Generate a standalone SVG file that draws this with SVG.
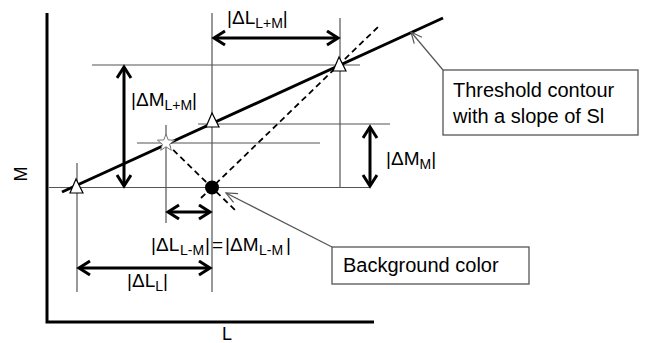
<svg xmlns="http://www.w3.org/2000/svg" width="649" height="343" viewBox="0 0 649 343">
  <style>
    .axis { stroke: #000; stroke-width: 3; fill: none; }
    .guide { stroke: #555; stroke-width: 1.2; fill: none; }
    .contour { stroke: #000; stroke-width: 3; fill: none; }
    .dash { stroke: #000; stroke-width: 1.8; stroke-dasharray: 6 4; fill: none; }
    .dim { stroke: #000; stroke-width: 3; fill: none; marker-start: url(#chev); marker-end: url(#chev); }
    .leader { stroke: #555; stroke-width: 1.2; fill: none; marker-end: url(#thin); }
    .box { fill: #fff; stroke: #555; stroke-width: 1.3; }
    .lbl { font-family: "Liberation Sans", Arial, sans-serif; font-size: 19px; fill: #000; }
    .sub { font-size: 14px; }
    .note { font-family: "Liberation Sans", Arial, sans-serif; font-size: 20px; fill: #000; }
    .ax { font-family: "Liberation Sans", Arial, sans-serif; font-size: 18px; fill: #000; }
    .tri { fill: #fff; stroke: #000; stroke-width: 1.2; }
  </style>
  <defs>
    <marker id="chev" markerUnits="userSpaceOnUse" markerWidth="16" markerHeight="18" refX="12" refY="8" orient="auto-start-reverse" viewBox="0 0 16 18">
      <path d="M1,1 L12,8 L1,15" fill="none" stroke="#000" stroke-width="3"/>
    </marker>
    <marker id="thin" markerUnits="userSpaceOnUse" markerWidth="14" markerHeight="14" refX="12" refY="6" orient="auto" viewBox="0 0 14 12">
      <path d="M1,1 L12,6 L1,11" fill="none" stroke="#555" stroke-width="1.2"/>
    </marker>
  </defs>

  <!-- axes -->
  <g id="axes">
    <polyline class="axis" points="47,13 47,322 374,322"/>
    <text class="ax" x="227" y="340" text-anchor="middle">L</text>
    <text class="ax" transform="translate(27,174) rotate(-90)" text-anchor="middle">M</text>
  </g>

  <!-- construction lines -->
  <g id="guides">
    <line class="guide" x1="92" y1="65" x2="360" y2="65"/>
    <line class="guide" x1="198" y1="124" x2="390" y2="124"/>
    <line class="guide" x1="137" y1="143" x2="320" y2="143"/>
    <line class="guide" x1="49" y1="187.5" x2="370" y2="187.5"/>
    <line class="guide" x1="212" y1="13" x2="212" y2="292"/>
    <line class="guide" x1="340" y1="18" x2="340" y2="188"/>
    <line class="guide" x1="77" y1="163" x2="77" y2="292"/>
    <line class="guide" x1="166" y1="125" x2="166" y2="223"/>
  </g>

  <!-- connectors: contour, diagonals, dimension arrows, leaders -->
  <g id="connectors">
    <line class="contour" x1="62" y1="192" x2="443" y2="18"/>
    <line class="dash" x1="166" y1="143" x2="236" y2="211"/>
    <line class="dash" x1="201" y1="198" x2="378" y2="27"/>
    <line class="dim" x1="214" y1="38" x2="338" y2="38"/>
    <line class="dim" x1="124" y1="67" x2="124" y2="186"/>
    <line class="dim" x1="370" y1="127" x2="370" y2="186"/>
    <line class="dim" x1="168" y1="212" x2="210" y2="212"/>
    <line class="dim" x1="79" y1="268" x2="210" y2="268"/>
    <line class="leader" x1="443" y1="70" x2="411" y2="32"/>
    <line class="leader" x1="332" y1="247" x2="226" y2="193"/>
  </g>

  <!-- threshold points -->
  <g id="threshold-points">
    <polygon class="tri" points="76,179 70,193 83,193"/>
    <polygon class="tri" points="212,113 206,127 219,127"/>
    <polygon class="tri" points="339,57 333,71 346,71"/>
  </g>

  <g id="star">
    <polygon fill="#fff" stroke="#777" stroke-width="1" points="166,134 168.2,139.9 174.6,140.2 169.6,144.2 171.3,150.3 166,146.8 160.7,150.3 162.4,144.2 157.4,140.2 163.8,139.9"/>
  </g>

  <g id="background-point">
    <circle cx="212" cy="187.5" r="7" fill="#000"/>
  </g>

  <!-- dimension labels -->
  <g id="label-dL-LM">
    <text class="lbl" y="24"><tspan x="227">|ΔL</tspan><tspan class="sub" dy="4">L+M</tspan><tspan dy="-4">|</tspan></text>
  </g>
  <g id="label-dM-LM">
    <text class="lbl" y="106"><tspan x="131">|ΔM</tspan><tspan class="sub" dy="4">L+M</tspan><tspan dy="-4">|</tspan></text>
  </g>
  <g id="label-dM-M">
    <text class="lbl" y="165"><tspan x="386">|ΔM</tspan><tspan class="sub" dy="4">M</tspan><tspan dy="-4">|</tspan></text>
  </g>
  <g id="label-L-minus-M">
    <text class="lbl" y="251"><tspan x="151">|ΔL</tspan><tspan class="sub" x="180" dy="4">L-M</tspan><tspan x="205" dy="-4">|</tspan><tspan x="212">=</tspan><tspan x="225">|ΔM</tspan><tspan class="sub" x="259" dy="4">L-M</tspan><tspan x="286" dy="-4">|</tspan></text>
  </g>
  <g id="label-dL-L">
    <text class="lbl" y="287"><tspan x="127">|ΔL</tspan><tspan class="sub" dy="4">L</tspan><tspan dy="-4">|</tspan></text>
  </g>

  <!-- callouts -->
  <g id="callout-contour">
    <rect class="box" x="443" y="70" width="195" height="65"/>
    <text class="note" x="453" y="97">Threshold contour</text>
    <text class="note" x="453" y="123">with a slope of Sl</text>
  </g>
  <g id="callout-background">
    <rect class="box" x="332" y="247" width="197" height="37"/>
    <text class="note" x="343" y="272">Background color</text>
  </g>
</svg>
